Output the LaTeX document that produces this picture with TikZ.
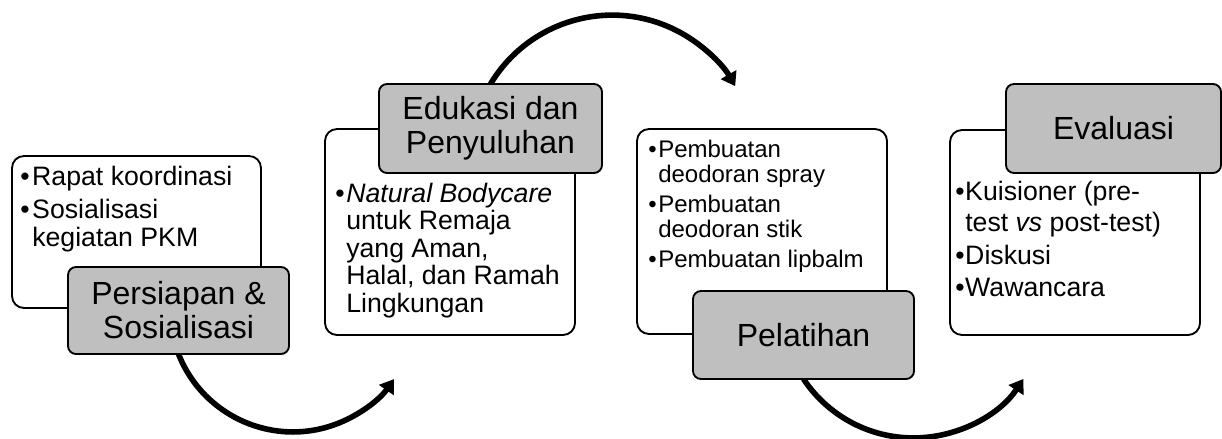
\documentclass[tikz,border=0pt]{standalone}
\usepackage{fontspec}
\setmainfont{Liberation Sans}
\usetikzlibrary{arrows.meta}
\definecolor{boxgray}{RGB}{191,191,191}
\tikzset{
  wbox/.style={draw=black, line width=1.4pt, fill=white, rounded corners=9pt, inner sep=0pt},
  gbox/.style={draw=black, line width=1.4pt, fill=boxgray, rounded corners=6pt, inner sep=0pt,
               align=center, font=\fontsize{24}{25.5}\selectfont},
  tline/.style={anchor=base west, inner sep=0pt, font=\fontsize{20}{24}\selectfont},
  sline/.style={anchor=base west, inner sep=0pt, font=\fontsize{18}{22}\selectfont},
  flow/.style={line width=4.2pt, -{Triangle[length=10pt,width=13pt]}}
}
\newcommand{\bul}[1]{\makebox[#1][l]{•}}
\begin{document}
\begin{tikzpicture}[x=0.75pt, y=-0.75pt]
\useasboundingbox (0,0) rectangle (1222,439);

% boxes (white first, gray overlapping)
\node[wbox, minimum width=186.75pt, minimum height=114pt] (w1) at (136.5,232) {};
\node[wbox, minimum width=187.5pt, minimum height=154.5pt] (w2) at (450,232) {};
\node[wbox, minimum width=187.5pt, minimum height=153.75pt] (w3) at (762,231.5) {};
\node[wbox, minimum width=187.5pt, minimum height=153.75pt] (w4) at (1075,232.5) {};

% connectors (behind gray boxes)
\coordinate (g1s) at (178.5,354);
\coordinate (g2n) at (490.5,84);
\coordinate (g3s) at (803.5,379);
\draw[flow] (g1s) arc[start angle=158.5, end angle=34.8, radius=123];
\draw[flow] (g2n) arc[start angle=211, end angle=330, radius=142];
\draw[flow] (g3s) arc[start angle=146.4, end angle=33.6, radius=132];

\node[gbox, minimum width=165.75pt, minimum height=65.25pt] (g1) at (178.5,310.5) {Persiapan \&\\Sosialisasi};
\node[gbox, minimum width=167.25pt, minimum height=66.75pt] (g2) at (490.5,128.5) {Edukasi dan\\Penyuluhan};
\node[gbox, minimum width=165.75pt, minimum height=66pt] (g3) at (803.5,335) {Pelatihan};
\node[gbox, minimum width=161.25pt, minimum height=66.75pt] (g4) at (1113.5,128.5) {Evaluasi};

% box 1 text
\node[tline] (t1a) at (20,185) {\bul{9pt}Rapat koordinasi};
\node[tline] (t1b) at (20,218) {\bul{9pt}Sosialisasi};
\node[tline] (t1c) at (32,246) {kegiatan PKM};

% box 2 text
\node[tline] (t2a) at (335,202) {\bul{8.25pt}\textit{Natural Bodycare}};
\node[tline] (t2b) at (346,229.5) {untuk Remaja};
\node[tline] (t2c) at (346,257) {yang Aman,};
\node[tline] (t2d) at (346,284.5) {Halal, dan Ramah};
\node[tline] (t2e) at (346,312) {Lingkungan};

% box 3 text
\node[sline] (t3a) at (648,157) {\bul{7.5pt}Pembuatan};
\node[sline] (t3b) at (658,182) {deodoran spray};
\node[sline] (t3c) at (648,212) {\bul{7.5pt}Pembuatan};
\node[sline] (t3d) at (658,237) {deodoran stik};
\node[sline] (t3e) at (648,267) {\bul{7.5pt}Pembuatan lipbalm};

% box 4 text
\node[tline] (t4a) at (955,200) {\bul{7.5pt}Kuisioner (pre-};
\node[tline] (t4b) at (965,231.5) {test \textit{vs} post-test)};
\node[tline] (t4c) at (955,264) {\bul{7.5pt}Diskusi};
\node[tline] (t4d) at (955,296.5) {\bul{7.5pt}Wawancara};
\end{tikzpicture}
\end{document}
